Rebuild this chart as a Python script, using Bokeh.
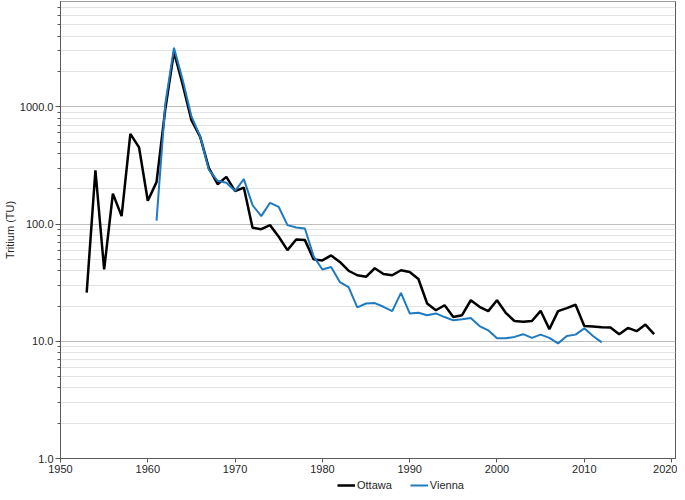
from bokeh.plotting import figure
from bokeh.layouts import column
from bokeh.models import (Range1d, FixedTicker, PrintfTickFormatter, Legend,
                          LegendItem, ColumnDataSource)
from bokeh.embed import file_html
from bokeh.resources import INLINE

# ---- data ----
ottawa_years = list(range(1953, 2019))
ottawa_tu = [26, 288, 41, 182, 117, 589, 451, 158, 228, 950,
             2950, 1550, 770, 555, 300, 219, 253, 191, 205, 93,
             90.5, 98, 78, 60, 74, 73, 50, 49, 54, 47.6,
             40, 36.6, 35.5, 42, 37.5, 36.6, 40.4, 39, 34, 21,
             18.4, 20.3, 16.1, 16.7, 22.4, 19.7, 18.1, 22.4, 17.5, 14.9,
             14.7, 14.9, 18.2, 12.7, 18.1, 19.2, 20.5, 13.5, 13.4, 13.2,
             13.1, 11.5, 13.0, 12.2, 13.9, 11.5]
vienna_years = list(range(1961, 2013))
vienna_tu = [107, 1055, 3200, 1700, 830, 560, 290, 234, 225, 192,
             242, 145, 117, 152, 140, 98, 93.6, 91.7, 53, 41,
             43, 32, 29, 19.5, 21, 21.2, 19.7, 18.1, 25.9, 17.3,
             17.5, 16.7, 17.3, 16.1, 15.1, 15.4, 15.8, 13.5, 12.4, 10.6,
             10.6, 10.9, 11.5, 10.7, 11.4, 10.7, 9.6, 11.1, 11.4, 12.9,
             11.1, 9.8]
x_ticks = [1950, 1960, 1970, 1980, 1990, 2000, 2010, 2020]
y_ticks = [1, 10, 100, 1000]
series_names = ["Ottawa", "Vienna"]
series_colors = ["#000000", "#1f7ac0"]

FONT = "Liberation Sans"

p = figure(width=677, height=477, y_axis_type="log",
           x_range=Range1d(1950, 2020.45), y_range=Range1d(1.0, 7930),
           output_backend="svg", toolbar_location=None,
           min_border_left=55, min_border_right=2, min_border_top=1,
           min_border_bottom=19)

p.outline_line_color = "#595959"
p.outline_line_width = 1

# grids
p.xgrid.visible = False
p.ygrid.grid_line_color = "#bfbfbf"
p.ygrid.grid_line_width = 1
p.ygrid.minor_grid_line_color = "#e3e3e3"
p.ygrid.minor_grid_line_width = 1

minor = [m * 10 ** k for k in range(0, 4) for m in range(2, 10)]
p.yaxis.ticker = FixedTicker(ticks=y_ticks, minor_ticks=minor)
p.xaxis.ticker = FixedTicker(ticks=x_ticks, minor_ticks=[])
p.yaxis.formatter = PrintfTickFormatter(format="%.1f")

for ax in (p.xaxis[0], p.yaxis[0]):
    ax.axis_line_color = "#595959"
    ax.major_tick_line_color = "#595959"
    ax.minor_tick_line_color = "#595959"
    ax.major_label_text_font = FONT
    ax.major_label_text_font_size = "11px"
    ax.major_label_text_color = "#262626"
p.yaxis.major_tick_out = 5
p.yaxis.major_tick_in = 0
p.yaxis.minor_tick_out = 3
p.yaxis.minor_tick_in = 0
p.yaxis.major_label_standoff = 2
p.yaxis.axis_label = "Tritium (TU)"
p.yaxis.axis_label_standoff = 1
p.yaxis.axis_label_text_font = FONT
p.yaxis.axis_label_text_font_size = "11px"
p.yaxis.axis_label_text_font_style = "normal"
p.yaxis.axis_label_text_color = "#262626"
p.xaxis.major_tick_out = 4
p.xaxis.major_tick_in = 0
p.xaxis.minor_tick_out = 0
p.xaxis.major_label_standoff = 2

src_o = ColumnDataSource(dict(year=ottawa_years, tu=ottawa_tu))
src_v = ColumnDataSource(dict(year=vienna_years, tu=vienna_tu))
p.line("year", "tu", source=src_o, line_color=series_colors[0], line_width=2.5)
p.line("year", "tu", source=src_v, line_color=series_colors[1], line_width=2)

# ---- legend strip below the chart ----
lg = figure(width=677, height=15, x_range=Range1d(0, 1), y_range=Range1d(0, 1),
            output_backend="svg", toolbar_location=None,
            x_axis_location=None, y_axis_location=None,
            min_border_left=0, min_border_right=0, min_border_top=0,
            min_border_bottom=0)
lg.grid.visible = False
lg.outline_line_color = None
# same series, drawn outside this strip's view so only the legend keys show
k_o = lg.line("year", "tu", source=src_o, line_color=series_colors[0], line_width=2.5)
k_v = lg.line("year", "tu", source=src_v, line_color=series_colors[1], line_width=2)

legend = Legend(items=[LegendItem(label=series_names[0], renderers=[k_o]),
                       LegendItem(label=series_names[1], renderers=[k_v])],
                orientation="horizontal", location=(277, 1),
                padding=0, margin=0, spacing=18,
                glyph_width=18, glyph_height=12, label_standoff=2,
                label_text_font=FONT, label_text_font_size="11px",
                label_text_color="#262626",
                border_line_color=None, background_fill_alpha=0)
lg.add_layout(legend, "center")

layout = column(p, lg, spacing=0)
open("out.html", "w").write(file_html(layout, INLINE))
